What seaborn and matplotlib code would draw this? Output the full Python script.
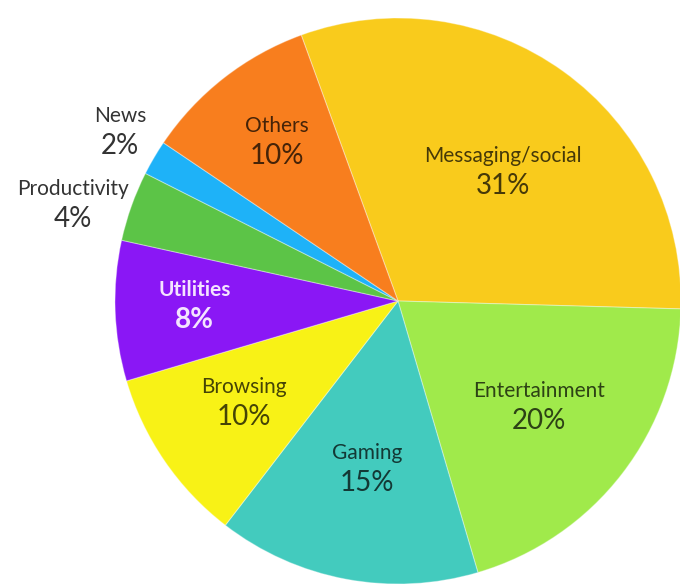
import matplotlib
matplotlib.use("Agg")
import matplotlib.pyplot as plt
import matplotlib.colors as mcolors
import numpy as np
import seaborn as sns

# app category share
categories = ["Messaging/social", "Entertainment", "Gaming", "Browsing",
              "Utilities", "Productivity", "News", "Others"]
shares = [31, 20, 15, 10, 8, 4, 2, 10]
colors = ["#F9CB1C", "#A0EA4B", "#43CBBE", "#F8F216",
          "#8A17F5", "#5CC447", "#1EB2F8", "#F87E1E"]
# label distance as a fraction of the radius, and angle nudge in degrees
label_dist = [0.59, 0.62, 0.60, 0.65, 0.72, 1.20, 1.15, 0.71]
label_turn = [-3, 1, 0, -1, -1, 3, -1, -1]

sns.set_theme(style="white")
plt.rcParams["font.family"] = ["Lato", "DejaVu Sans"]

fig = plt.figure(figsize=(6.8, 5.86), dpi=100)
ax = fig.add_axes([0, 0, 1, 1])

cx, cy, r = 398, 285, 283
wedges, _ = ax.pie(shares, colors=colors, startangle=110, counterclock=False,
                   center=(cx, cy), radius=r, frame=True,
                   wedgeprops=dict(linewidth=0.8, edgecolor=(1, 1, 1, 0.35)))
ax.set_xlim(0, 680)
ax.set_ylim(0, 586)
ax.set_aspect("equal")
ax.axis("off")


def text_color(name, c, d):
    if d > 1:
        return "#333333"
    if name == "Utilities":
        return "#F4E4FF"
    return tuple(np.array(mcolors.to_rgb(c)) * 0.28)


for w, name, pct, c, d, t in zip(wedges, categories, shares, colors,
                                 label_dist, label_turn):
    ang = np.deg2rad((w.theta1 + w.theta2) / 2 + t)
    x = cx + r * d * np.cos(ang)
    y = cy + r * d * np.sin(ang)
    tc = text_color(name, c, d)
    bold = "bold" if name == "Utilities" else "normal"
    ax.text(x, y + 15, name, ha="center", va="center", fontsize=15,
            color=tc, fontweight=bold)
    ax.text(x, y - 15, f"{pct}%", ha="center", va="center", fontsize=20,
            color=tc, fontweight=bold)

fig.savefig("out.png", dpi=100, facecolor="white")
